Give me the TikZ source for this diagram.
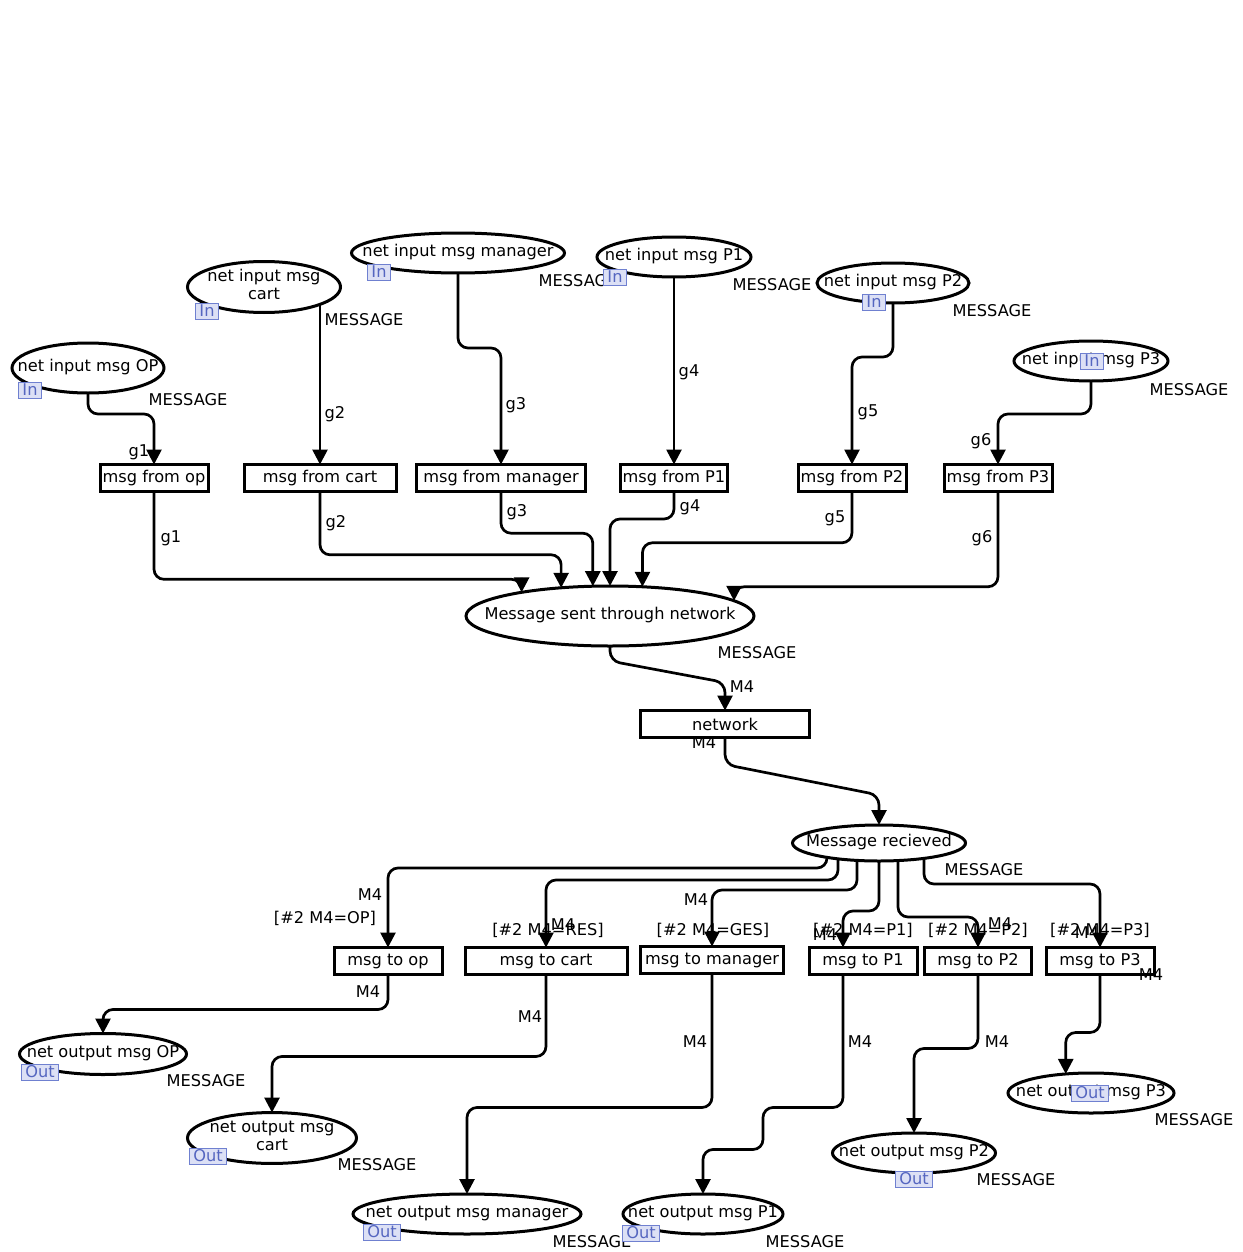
\documentclass[tikz,border=0pt]{standalone}
\usepackage{fontspec}
\setmainfont{DejaVu Sans}
\usepackage{xcolor}
\usepackage{tikz}
\usetikzlibrary{shapes, arrows.meta, backgrounds}

\definecolor{portline}{HTML}{6F80D0}
\definecolor{portfill}{HTML}{DCE0F5}
\definecolor{porttext}{HTML}{5566C0}

\newcommand{\placetext}[1]{\makebox[0pt]{\begin{tabular}{@{}c@{}}#1\end{tabular}}}

\begin{document}
\begin{tikzpicture}[x=1pt, y=-1pt,
        font=\fontsize{16.2}{18}\selectfont,
        >={Triangle[length=15pt, width=15pt]},
        place/.style={ellipse, draw, line width=3pt, fill=white, inner sep=0pt, outer sep=0pt, minimum height=40pt},
        trans/.style={rectangle, draw, line width=3pt, fill=white, inner sep=0pt, outer sep=0pt, minimum height=27pt},
        arc/.style={->, line width=2.7pt, rounded corners=10pt},
        lbl/.style={inner sep=0pt},
        port/.style={draw=portline, fill=portfill, text=porttext, line width=1pt, inner xsep=3.5pt, inner ysep=0pt, minimum height=16pt}]
        \useasboundingbox (0,0) rectangle (1242,1252);

        % Input places
        \node[place, minimum width=152pt, minimum height=50pt] (ipOP) at (88,368) {\placetext{net input msg OP}};
        \node[place, minimum width=153pt, minimum height=51pt] (ipCart) at (264,287) {\placetext{net input msg\\cart}};
        \node[place, minimum width=213pt] (ipMgr) at (458,253) {\placetext{net input msg manager}};
        \node[place, minimum width=154pt] (ipP1) at (674,257) {\placetext{net input msg P1}};
        \node[place, minimum width=152pt] (ipP2) at (893,283) {\placetext{net input msg P2}};
        \node[place, minimum width=154pt] (ipP3) at (1091,361) {\placetext{net input msg P3}};

        % msg from transitions
        \node[trans, minimum width=108pt] (fOP) at (154,478) {msg from op};
        \node[trans, minimum width=152pt] (fCart) at (320,478) {msg from cart};
        \node[trans, minimum width=169pt] (fMgr) at (501,478) {msg from manager};
        \node[trans, minimum width=107pt] (fP1) at (674,478) {msg from P1};
        \node[trans, minimum width=108pt] (fP2) at (852,478) {msg from P2};
        \node[trans, minimum width=108pt] (fP3) at (998,478) {msg from P3};

        % Network
        \node[place, minimum width=288pt, minimum height=60pt] (sent) at (610,616) {\placetext{Message sent through network}};
        \node[trans, minimum width=169pt] (net) at (725,724) {network};
        \node[place, minimum width=173pt, minimum height=36pt] (recv) at (879,843) {\placetext{Message recieved}};

        % msg to transitions
        \node[trans, minimum width=108pt] (toOP) at (388,961) {msg to op};
        \node[trans, minimum width=162pt] (toCart) at (546,961) {msg to cart};
        \node[trans, minimum width=143pt] (toMgr) at (712,960) {msg to manager};
        \node[trans, minimum width=108pt] (toP1) at (863,961) {msg to P1};
        \node[trans, minimum width=107pt] (toP2) at (978,961) {msg to P2};
        \node[trans, minimum width=108pt] (toP3) at (1100,961) {msg to P3};

        % Output places
        \node[place, minimum width=167pt, minimum height=41pt] (opOP) at (103,1054) {\placetext{net output msg OP}};
        \node[place, minimum width=169pt] (opCart) at (272,1138) {\placetext{net output msg\\cart}};
        \node[place, minimum width=228pt] (opMgr) at (467,1214) {\placetext{net output msg manager}};
        \node[place, minimum width=160pt] (opP1) at (703,1214) {\placetext{net output msg P1}};
        \node[place, minimum width=163pt] (opP2) at (914,1153) {\placetext{net output msg P2}};
        \node[place, minimum width=166pt] (opP3) at (1091,1093) {\placetext{net output msg P3}};

        \begin{scope}[on background layer]
            % Arcs into msg from
            \draw[arc] (ipOP.south) -- ++(0,21) -| (fOP.north);
            \draw[arc] (fCart.north |- ipCart.center) -- (fCart.north);
            \draw[arc] (ipMgr.south) -- ++(0,75) -| (fMgr.north);
            \draw[arc] (fP1.north |- ipP1.center) -- (fP1.north);
            \draw[arc] (ipP2.south) -- ++(0,54) -| (fP2.north);
            \draw[arc] (ipP3.south) -- ++(0,33) -| (fP3.north);

            % Arcs into the network place
            \draw[arc] (fOP.south) |- ([yshift=13pt]sent.165) -- (sent.165);
            \draw[arc] (fCart.south) |- ([yshift=33pt]sent.150) -- (sent.150);
            \draw[arc] (fMgr.south) |- ([yshift=53pt]sent.120) -- (sent.120);
            \draw[arc] (fP1.south) |- ([yshift=67pt]sent.north) -- (sent.north);
            \draw[arc] (fP2.south) |- ([yshift=44pt]sent.42) -- (sent.42);
            \draw[arc] (fP3.south) |- ([yshift=14pt]sent.7) -- (sent.7);

            \draw[arc] (sent.south) -- ++(0,15) -- ([yshift=28pt]net.north) -- (net.north);
            \draw[arc] (net.south) -- ++(0,27) -- ([yshift=30pt]recv.north) -- (recv.north);

            % Arcs out of Message recieved
            \draw[arc] ([xshift=-52pt]recv.center) -- ++(0,25) -| (toOP.north);
            \draw[arc] ([xshift=-41pt]recv.center) -- ++(0,37) -| (toCart.north);
            \draw[arc] ([xshift=-22pt]recv.center) -- ++(0,47) -| (toMgr.north);
            \draw[arc] (recv.center) -- ++(0,68) -| ([xshift=-20pt]toP1.north);
            \draw[arc] ([xshift=19pt]recv.center) -- ++(0,74) -| (toP2.north);
            \draw[arc] ([xshift=45pt]recv.center) -- ++(0,41) -| (toP3.north);

            % Arcs into output places
            \draw[arc] (toOP.south) -- ++(0,35) -| (opOP.north);
            \draw[arc] (toCart.south) -- ++(0,82) -| (opCart.north);
            \draw[arc] (toMgr.south) -- ++(0,134) -| (opMgr.north);
            \draw[arc] ([xshift=-20pt]toP1.south) -- ++(0,133) -| ++(-80,42) -| (opP1.north);
            \draw[arc] (toP2.south) -- ++(0,74) -| (opP2.north);
            \draw[arc] (toP3.south) -- ++(0,58) -| (opP3.143);
        \end{scope}

        % Colour sets
        \node[lbl] (tyIpOP) at (188,400) {MESSAGE};
        \node[lbl] (tyIpCart) at (364,320) {MESSAGE};
        \node[lbl] (tyIpMgr) at (578,281) {MESSAGE};
        \node[lbl] (tyIpP1) at (772,285) {MESSAGE};
        \node[lbl] (tyIpP2) at (992,311) {MESSAGE};
        \node[lbl] (tyIpP3) at (1189,390) {MESSAGE};
        \node[lbl] (tySent) at (757,653) {MESSAGE};
        \node[lbl] (tyRecv) at (984,870) {MESSAGE};
        \node[lbl] (tyOpOP) at (206,1081) {MESSAGE};
        \node[lbl] (tyOpCart) at (377,1165) {MESSAGE};
        \node[lbl] (tyOpMgr) at (592,1242) {MESSAGE};
        \node[lbl] (tyOpP1) at (805,1242) {MESSAGE};
        \node[lbl] (tyOpP2) at (1016,1180) {MESSAGE};
        \node[lbl] (tyOpP3) at (1194,1120) {MESSAGE};

        % Arc inscriptions
        \node[lbl] (exInOP) at (139,452) {g1};
        \node[lbl] (exInCart) at (335,414) {g2};
        \node[lbl] (exInMgr) at (516,405) {g3};
        \node[lbl] (exInP1) at (689,372) {g4};
        \node[lbl] (exInP2) at (868,412) {g5};
        \node[lbl] (exInP3) at (981,441) {g6};
        \node[lbl] (exOutOP) at (171,538) {g1};
        \node[lbl] (exOutCart) at (336,523) {g2};
        \node[lbl] (exOutMgr) at (517,512) {g3};
        \node[lbl] (exOutP1) at (690,507) {g4};
        \node[lbl] (exOutP2) at (835,518) {g5};
        \node[lbl] (exOutP3) at (982,538) {g6};
        \node[lbl] (exNetIn) at (742,687) {M4};
        \node[lbl] (exNetOut) at (704,743) {M4};
        \node[lbl] (exToOP) at (370,895) {M4};
        \node[lbl] (exToCart) at (563,925) {M4};
        \node[lbl] (exToMgr) at (696,900) {M4};
        \node[lbl] (exToP1) at (825,935) {M4};
        \node[lbl] (exToP2) at (1000,924) {M4};
        \node[lbl] (exToP3) at (1087,933) {M4};
        \node[lbl] (exOpOP) at (368,992) {M4};
        \node[lbl] (exOpCart) at (530,1017) {M4};
        \node[lbl] (exOpMgr) at (695,1042) {M4};
        \node[lbl] (exOpP1) at (860,1042) {M4};
        \node[lbl] (exOpP2) at (997,1042) {M4};
        \node[lbl] (exOpP3) at (1151,975) {M4};

        % Guards
        \node[lbl] (grOP) at (325,918) {[\#2 M4=OP]};
        \node[lbl] (grCart) at (548,930) {[\#2 M4=RES]};
        \node[lbl] (grMgr) at (713,930) {[\#2 M4=GES]};
        \node[lbl] (grP1) at (863,930) {[\#2 M4=P1]};
        \node[lbl] (grP2) at (978,930) {[\#2 M4=P2]};
        \node[lbl] (grP3) at (1100,930) {[\#2 M4=P3]};

        % Port tags
        \node[port] (ptIpOP) at (30,390) {In};
        \node[port] (ptIpCart) at (207,311) {In};
        \node[port] (ptIpMgr) at (379,272) {In};
        \node[port] (ptIpP1) at (615,277) {In};
        \node[port] (ptIpP2) at (874,302) {In};
        \node[port] (ptIpP3) at (1092,361) {In};
        \node[port] (ptOpOP) at (40,1072) {Out};
        \node[port] (ptOpCart) at (208,1156) {Out};
        \node[port] (ptOpMgr) at (382,1232) {Out};
        \node[port] (ptOpP1) at (641,1233) {Out};
        \node[port] (ptOpP2) at (914,1179) {Out};
        \node[port] (ptOpP3) at (1090,1093) {Out};

    \end{tikzpicture}
\end{document}
